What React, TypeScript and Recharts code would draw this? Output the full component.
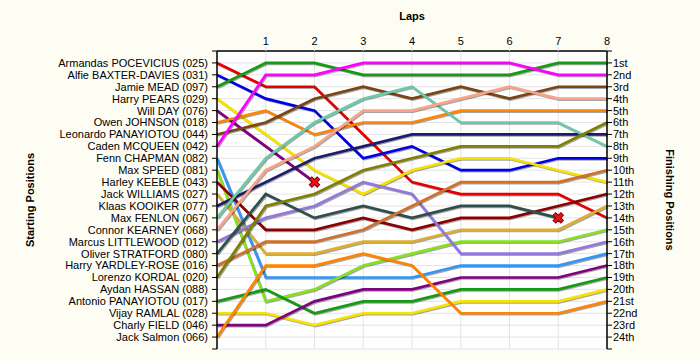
import React from "react";
import { LineChart, Line, XAxis, YAxis, CartesianGrid, Label } from "recharts";

const lapNumbers = [0, 1, 2, 3, 4, 5, 6, 7, 8];
const lapTicks = [1, 2, 3, 4, 5, 6, 7, 8];
const positionTicks = [0, 1, 2, 3, 4, 5, 6, 7, 8, 9, 10, 11, 12, 13, 14, 15, 16, 17, 18, 19, 20, 21, 22, 23, 24, 25];

const startingGrid = [
    "Armandas POCEVICIUS (025)",
    "Alfie BAXTER-DAVIES (031)",
    "Jamie MEAD (097)",
    "Harry PEARS (029)",
    "Will DAY (076)",
    "Owen JOHNSON (018)",
    "Leonardo PANAYIOTOU (044)",
    "Caden MCQUEEN (042)",
    "Fenn CHAPMAN (082)",
    "Max SPEED (081)",
    "Harley KEEBLE (043)",
    "Jack WILLIAMS (027)",
    "Klaas KOOIKER (077)",
    "Max FENLON (067)",
    "Connor KEARNEY (068)",
    "Marcus LITTLEWOOD (012)",
    "Oliver STRATFORD (080)",
    "Harry YARDLEY-ROSE (016)",
    "Lorenzo KORDAL (020)",
    "Aydan HASSAN (088)",
    "Antonio PANAYIOTOU (017)",
    "Vijay RAMLAL (028)",
    "Charly FIELD (046)",
    "Jack Salmon (066)",
];

const finishLabels = [
    "1st", "2nd", "3rd", "4th", "5th", "6th", "7th", "8th", "9th", "10th", "11th", "12th",
    "13th", "14th", "15th", "16th", "17th", "18th", "19th", "20th", "21st", "22nd", "23rd", "24th",
];

// position after each lap (index 0 = grid). shorter arrays = retired
const pocevicius = [1, 3, 3, 7, 11, 12, 12, 12, 14];
const baxterDavies = [2, 4, 5, 9, 8, 10, 10, 9, 9];
const mead = [3, 1, 1, 2, 2, 2, 2, 1, 1];
const pears = [4, 7, 10, 12, 10, 9, 9, 10, 11];
const day = [5, 8, 11];
const johnson = [6, 5, 7, 6, 6, 5, 5, 5, 5];
const leoPanayiotou = [7, 6, 4, 3, 4, 3, 4, 3, 3];
const mcqueen = [8, 2, 2, 1, 1, 1, 1, 2, 2];
const chapman = [9, 19, 19, 19, 19, 18, 18, 18, 17];
const speed = [10, 21, 20, 18, 17, 16, 16, 16, 15];
const keeble = [11, 15, 15, 14, 15, 14, 14, 13, 12];
const williams = [12, 17, 17, 16, 16, 15, 15, 15, 13];
const kooiker = [13, 11, 9, 8, 7, 7, 7, 7, 7];
const fenlon = [14, 9, 6, 4, 3, 6, 6, 6, 8];
const kearney = [15, 10, 8, 5, 5, 4, 3, 4, 4];
const littlewood = [16, 14, 13, 11, 12, 17, 17, 17, 16];
const stratford = [17, 12, 14, 13, 14, 13, 13, 14];
const yardleyRose = [18, 16, 16, 15, 13, 11, 11, 11, 10];
const kordal = [19, 13, 12, 10, 9, 8, 8, 8, 6];
const hassan: number[] = [];
const antPanayiotou = [21, 20, 22, 21, 21, 20, 20, 20, 19];
const ramlal = [22, 22, 23, 22, 22, 21, 21, 21, 20];
const field = [23, 23, 21, 20, 20, 19, 19, 19, 18];
const salmon = [24, 18, 18, 17, 18, 22, 22, 22, 21];

const allPositions = [
    pocevicius, baxterDavies, mead, pears, day, johnson, leoPanayiotou, mcqueen,
    chapman, speed, keeble, williams, kooiker, fenlon, kearney, littlewood,
    stratford, yardleyRose, kordal, hassan, antPanayiotou, ramlal, field, salmon,
];

const lineColors = [
    "#e80000", "#0000e8", "#169a16", "#f7e200", "#800080", "#ff8400", "#7a4414", "#ff00ff",
    "#3296f5", "#88e020", "#8b0000", "#dcae32", "#1c1c6e", "#6ccaa8", "#f8a488", "#9478dc",
    "#2f4f4f", "#d2702a", "#808000", "#999999", "#169a16", "#f7e200", "#800080", "#ff8400",
];

const chartData = lapNumbers.map((lap) => {
    const row: any = { lap };
    allPositions.forEach((p, i) => {
        if (lap < p.length) row[`d${i}`] = p[lap];
    });
    return row;
});

const FONT = "'Liberation Sans', Arial, sans-serif";

const RetiredMark = ({ cx, cy }: any) => {
    const a = 5.5;
    const b = 1.8;
    const pts = [
        [-b, -a], [b, -a], [b, -b], [a, -b], [a, b], [b, b],
        [b, a], [-b, a], [-b, b], [-a, b], [-a, -b], [-b, -b],
    ].map((p) => p.join(",")).join(" ");
    return (
        <polygon
            points={pts}
            transform={`translate(${cx},${cy}) rotate(45)`}
            fill="#ee1111"
            stroke="#7a0000"
            strokeWidth={1}
        />
    );
};

export default function App() {
    return (
        <div style={{ position: "absolute", left: 0, top: 0, width: 700, height: 360, background: "#fdfdf4", fontFamily: FONT }}>
            <LineChart
                width={700}
                height={360}
                data={chartData}
                margin={{ top: 0, right: 0, bottom: 11, left: 0 }}
            >
                <CartesianGrid
                    yAxisId="left"
                    stroke="#e4e4e4"
                    strokeWidth={1}
                    fill="#ffffff"
                    fillOpacity={1}
                />
                <XAxis
                    dataKey="lap"
                    type="number"
                    orientation="top"
                    domain={[0, 8]}
                    ticks={lapTicks}
                    height={51}
                    axisLine={{ stroke: "#000", strokeWidth: 1.5 }}
                    tickLine={{ stroke: "#dddddd" }}
                    tickSize={4}
                    tick={{ fill: "#000", fontSize: 11, fontFamily: FONT }}
                >
                    <Label value="Laps" position="insideTop" offset={12} style={{ fontSize: 11, fontWeight: "bold", fill: "#000", fontFamily: FONT }} />
                </XAxis>
                <YAxis
                    yAxisId="left"
                    type="number"
                    reversed
                    domain={[0, 25]}
                    ticks={positionTicks}
                    interval={0}
                    width={217}
                    axisLine={{ stroke: "#000", strokeWidth: 1.5 }}
                    tickLine={{ stroke: "#000" }}
                    tickSize={5}
                    tickMargin={4}
                    tickFormatter={(v: number) => startingGrid[v - 1] ?? ""}
                    tick={{ fill: "#000", fontSize: 11, fontFamily: FONT }}
                >
                    <Label value="Starting Positions" angle={-90} position="insideLeft" offset={30} style={{ fontSize: 11, fontWeight: "bold", fill: "#000", fontFamily: FONT, textAnchor: "middle" }} />
                </YAxis>
                <YAxis
                    yAxisId="right"
                    orientation="right"
                    type="number"
                    reversed
                    domain={[0, 25]}
                    ticks={positionTicks}
                    interval={0}
                    width={93}
                    axisLine={{ stroke: "#000", strokeWidth: 1.5 }}
                    tickLine={{ stroke: "#000" }}
                    tickSize={5}
                    tickMargin={1}
                    tickFormatter={(v: number) => finishLabels[v - 1] ?? ""}
                    tick={{ fill: "#000", fontSize: 11, fontFamily: FONT }}
                >
                    <Label value="Finishing Positions" angle={90} position="insideRight" offset={30} style={{ fontSize: 11, fontWeight: "bold", fill: "#000", fontFamily: FONT, textAnchor: "middle" }} />
                </YAxis>

                {/* invisible series so the right-hand axis gets drawn */}
                <Line
                    yAxisId="right"
                    dataKey="d2"
                    stroke="none"
                    dot={false}
                    activeDot={false}
                    isAnimationActive={false}
                />

                {allPositions.map((p, i) => {
                    if (p.length === 0) return null;
                    const retired = p.length < lapNumbers.length;
                    const lastIdx = p.length - 1;
                    return (
                        <Line
                            key={`d${i}`}
                            yAxisId="left"
                            type="linear"
                            dataKey={`d${i}`}
                            stroke={lineColors[i]}
                            strokeWidth={2.7}
                            dot={(props: any) =>
                                retired && props.index === lastIdx ? (
                                    <RetiredMark key={`x${i}`} cx={props.cx} cy={props.cy} />
                                ) : (
                                    <g key={`n${i}-${props.index}`} />
                                )
                            }
                            activeDot={false}
                            connectNulls={false}
                            style={{ filter: "drop-shadow(1px 1.5px 0px rgba(0,0,0,0.35))" }}
                            isAnimationActive={false}
                        />
                    );
                })}
            </LineChart>
        </div>
    );
}
